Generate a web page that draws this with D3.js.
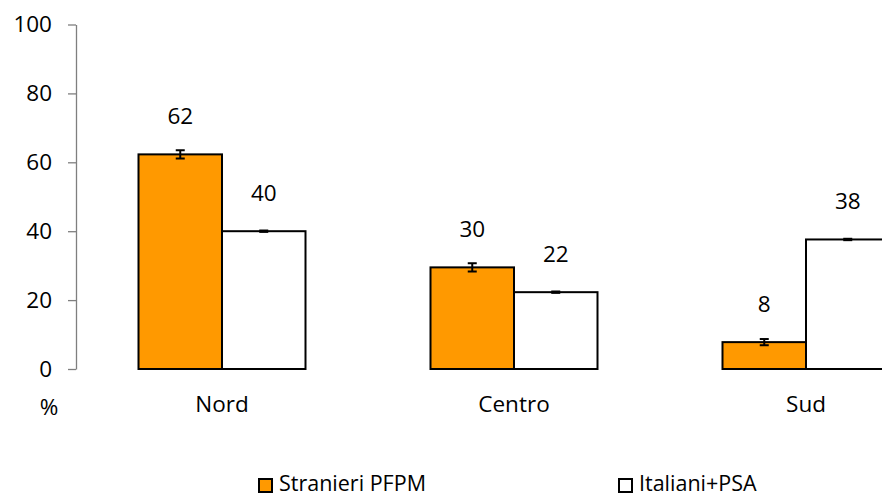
<!DOCTYPE html>
<html>
<head>
<meta charset="utf-8">
<script src="https://cdn.jsdelivr.net/npm/d3@7"></script>
<style>
  html, body { margin: 0; padding: 0; background: #fff; }
  svg { display: block; font-family: "Open Sans", "Noto Sans", sans-serif; }
</style>
</head>
<body>
<svg id="chart" width="882" height="497"></svg>
<script>
const categories = ["Nord", "Centro", "Sud"];
const seriesNames = ["Stranieri PFPM", "Italiani+PSA"];
const stranieriValues = [62.3, 29.5, 7.8];
const italianiValues = [40.0, 22.3, 37.6];
const stranieriErrors = [1.2, 1.2, 0.9];
const italianiErrors = [0.2, 0.2, 0.2];
const yTicks = [0, 20, 40, 60, 80, 100];
const seriesColors = ["#FF9900", "#FFFFFF"];

const svg = d3.select("#chart");
const fontSize = 22.5;
const legendFont = 21.5;

const y = d3.scaleLinear().domain([0, 100]).range([369, 24.5]);
const x0 = d3.scaleBand().domain(categories).range([76, 952]).paddingInner(0).paddingOuter(0);
const groupW = x0.bandwidth();
const pairW = 167;
const x1 = d3.scaleBand().domain(seriesNames).range([(groupW - pairW) / 2, (groupW + pairW) / 2]);

const allValues = [stranieriValues, italianiValues];
const allErrors = [stranieriErrors, italianiErrors];

const data = [];
categories.forEach((c, i) => {
  seriesNames.forEach((s, j) => {
    data.push({ cat: c, series: s, si: j, value: allValues[j][i], err: allErrors[j][i] });
  });
});

// y axis
const yAxis = d3.axisLeft(y).tickValues(yTicks).tickSize(8).tickPadding(16).tickSizeOuter(0);
const gy = svg.append("g").attr("transform", "translate(76,0)").call(yAxis);
gy.select(".domain").attr("stroke", "#7f7f7f").attr("stroke-width", 1.3);
gy.selectAll(".tick line").attr("stroke", "#7f7f7f").attr("stroke-width", 1.3);
gy.selectAll(".tick text").attr("font-size", fontSize).attr("fill", "#000")
  .attr("font-family", "Open Sans, Noto Sans, sans-serif");

// bars
svg.append("g").selectAll("rect").data(data).join("rect")
  .attr("x", d => x0(d.cat) + x1(d.series))
  .attr("y", d => y(d.value))
  .attr("width", x1.bandwidth())
  .attr("height", d => y(0) - y(d.value))
  .attr("fill", d => seriesColors[d.si])
  .attr("stroke", "#000")
  .attr("stroke-width", 2);

// error bars
const eg = svg.append("g").attr("stroke", "#000").attr("stroke-width", 2);
data.forEach(d => {
  const cx = x0(d.cat) + x1(d.series) + x1.bandwidth() / 2;
  const y1 = y(d.value + d.err), y2 = y(d.value - d.err);
  const cw = 4.5;
  eg.append("line").attr("x1", cx).attr("x2", cx).attr("y1", y1).attr("y2", y2);
  eg.append("line").attr("x1", cx - cw).attr("x2", cx + cw).attr("y1", y1).attr("y2", y1);
  eg.append("line").attr("x1", cx - cw).attr("x2", cx + cw).attr("y1", y2).attr("y2", y2);
});

// value labels
svg.append("g").selectAll("text").data(data).join("text")
  .attr("x", d => x0(d.cat) + x1(d.series) + x1.bandwidth() / 2)
  .attr("y", d => y(d.value) - 30)
  .attr("text-anchor", "middle")
  .attr("font-size", fontSize)
  .attr("fill", "#000")
  .text(d => Math.round(d.value));

// category labels
svg.append("g").selectAll("text").data(categories).join("text")
  .attr("x", d => x0(d) + groupW / 2)
  .attr("y", 412)
  .attr("text-anchor", "middle")
  .attr("font-size", fontSize)
  .attr("fill", "#000")
  .text(d => d);

// % label
svg.append("text").attr("x", 49).attr("y", 415).attr("text-anchor", "middle")
  .attr("font-size", fontSize).attr("fill", "#000").text("%");

// legend
const legendX = [259, 619];
const lg = svg.append("g");
seriesNames.forEach((s, j) => {
  lg.append("rect").attr("x", legendX[j]).attr("y", 479).attr("width", 13).attr("height", 13)
    .attr("fill", seriesColors[j]).attr("stroke", "#000").attr("stroke-width", 2);
  lg.append("text").attr("x", legendX[j] + 20).attr("y", 491)
    .attr("font-size", legendFont).attr("fill", "#000").text(s);
});
</script>
</body>
</html>
